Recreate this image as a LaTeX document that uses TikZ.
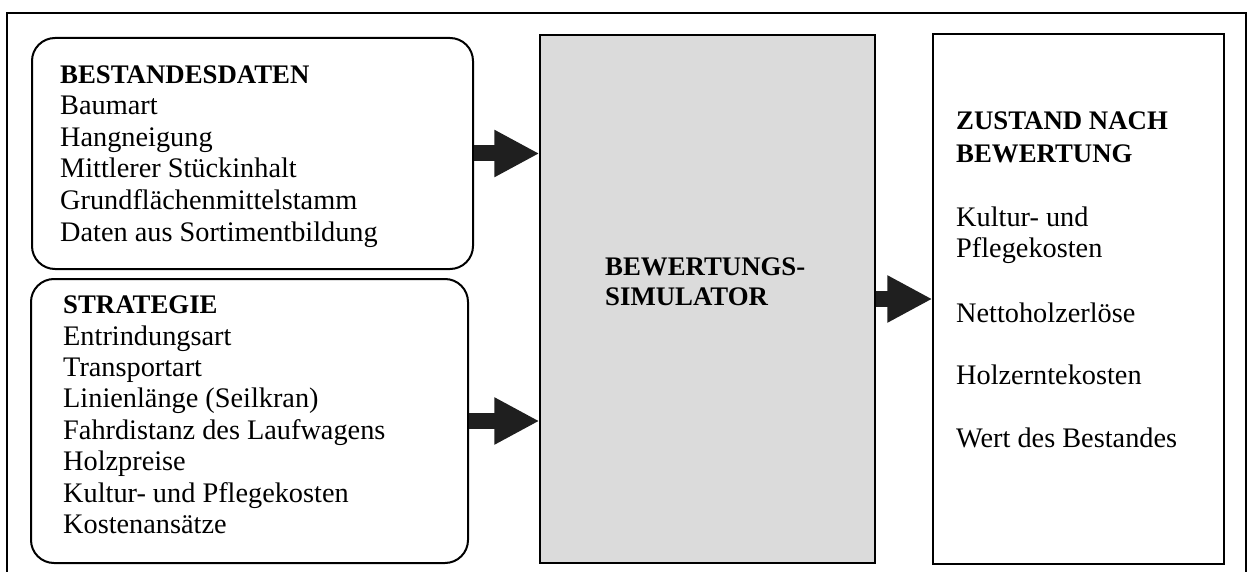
\documentclass[tikz,border=0pt]{standalone}
\usepackage{fontspec}
\setmainfont{Liberation Serif}
\usetikzlibrary{arrows.meta}
\begin{document}
\begin{tikzpicture}[x=1pt,y=-1pt,
  inbox/.style={draw=black, line width=2pt, rounded corners=23pt, inner sep=0pt},
  simbox/.style={draw=black, line width=1.2pt, fill=black!14, inner sep=0pt},
  outbox/.style={draw=black, line width=1.2pt, inner sep=0pt},
  txt/.style={anchor=base west, inner sep=0pt, font=\fontsize{28.3}{32}\selectfont},
  head/.style={anchor=base west, inner sep=0pt, font=\fontsize{26.8}{30}\selectfont\bfseries},
  bigarrow/.style={draw=black!88, line width=16pt, -{Triangle[length=45pt,width=44pt]}}
]
\useasboundingbox (0,0) rectangle (1249,572);
% outer frame
\draw[line width=2.5pt] (7,580) -- (7,13) -- (1246,13) -- (1246,580);

% boxes
\node[inbox, minimum width=441pt, minimum height=231pt] (box1) at (252.5,153.5) {};
\node[inbox, minimum width=437pt, minimum height=284pt] (box2) at (249.5,421) {};
\node[simbox, minimum width=335pt, minimum height=528pt] (sim) at (707.5,299) {};
\node[outbox, minimum width=291pt, minimum height=530pt] (res) at (1078.5,299) {};

% box 1 text
\node[head] (b0) at (60,84) {BESTANDESDATEN};
\node[txt] (b1) at (60,115) {Baumart};
\node[txt] (b2) at (60,146.5) {Hangneigung};
\node[txt] (b3) at (60,178) {Mittlerer Stückinhalt};
\node[txt] (b4) at (60,209.5) {Grundflächenmittelstamm};
\node[txt] (b5) at (60,241) {Daten aus Sortimentbildung};

% box 2 text
\node[head] (s0) at (63,313) {STRATEGIE};
\node[txt] (s1) at (63,345) {Entrindungsart};
\node[txt] (s2) at (63,376) {Transportart};
\node[txt] (s3) at (63,407.5) {Linienlänge (Seilkran)};
\node[txt] (s4) at (63,439) {Fahrdistanz des Laufwagens};
\node[txt] (s5) at (63,470.5) {Holzpreise};
\node[txt] (s6) at (63,502) {Kultur- und Pflegekosten};
\node[txt] (s7) at (63,533.5) {Kostenansätze};

% simulator text
\node[head] (m1) at (605,275) {BEWERTUNGS-};
\node[head] (m2) at (605,305) {SIMULATOR};

% result text
\node[head] (r0) at (956,130) {ZUSTAND NACH};
\node[head] (r1) at (956,163) {BEWERTUNG};
\node[txt] (r2) at (956,226) {Kultur- und};
\node[txt] (r3) at (956,257) {Pflegekosten};
\node[txt] (r4) at (956,322) {Nettoholzerlöse};
\node[txt] (r5) at (956,384) {Holzerntekosten};
\node[txt] (r6) at (956,447) {Wert des Bestandes};

% arrows
\draw[bigarrow] (box1.east) -- (sim.west |- box1.east);
\draw[bigarrow] (box2.east) -- (sim.west |- box2.east);
\draw[bigarrow] (sim.east) -- (res.west);
\end{tikzpicture}
\end{document}
